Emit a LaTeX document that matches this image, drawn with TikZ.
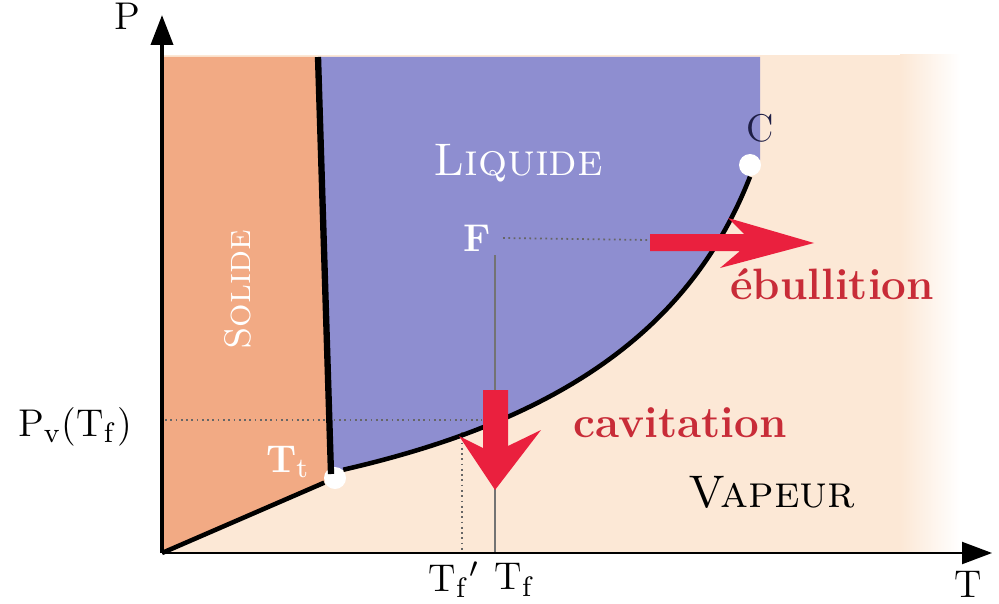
\documentclass[tikz,border=0pt]{standalone}
\usepackage{amsmath}
\usetikzlibrary{arrows.meta,positioning}
\definecolor{solidc}{RGB}{242,170,132}
\definecolor{liquidc}{RGB}{142,142,208}
\definecolor{vapeurc}{RGB}{252,232,214}
\definecolor{redarrow}{RGB}{234,32,62}
\definecolor{redtext}{RGB}{200,44,56}
\definecolor{navy}{RGB}{30,30,70}

\begin{document}
\begin{tikzpicture}[
  x=0.1mm,y=-0.1mm,
  axis/.style={-{Triangle[length=3mm,width=2.2mm]},draw=black},
  border/.style={draw=black,line width=1.3pt},
  guide/.style={draw=black!60,densely dotted,line width=0.5pt},
  dot/.style={circle,fill=white,inner sep=0pt,minimum size=2.2mm},
  region/.style={font=\fontsize{13}{15}\selectfont\scshape},
  axlabel/.style={font=\fontsize{11}{13}\selectfont},
  redlabel/.style={text=redtext,font=\fontsize{12.5}{15}\selectfont\bfseries},
  bigarrow/.style={fill=redarrow}
]
\useasboundingbox (0,0) rectangle (999,603);
% phase regions
\fill[vapeurc] (160,55) rectangle (905,553);
\fill[left color=vapeurc,right color=white] (900,55) rectangle (960,553);
\fill[solidc] (162,57) -- (316,57) -- (328,472) -- (333,478) -- (162,551) -- cycle;
\fill[liquidc] (320,57) -- (760,57) -- (760,160) -- (750,172)
  .. controls (690,330) and (560,420) .. (335,472) -- (332,472) -- cycle;

\coordinate (orig) at (162,553);
\coordinate (ptop) at (162,15);
\coordinate (tend) at (992,553);
\coordinate (mtop) at (318,57);
\coordinate (mbot) at (331,474);
\coordinate (pvl) at (165,420);
\coordinate (pvr) at (482,420);
\coordinate (fr) at (650,240);
\coordinate (tfa) at (495,255);
\coordinate (tfb) at (495,553);
\coordinate (tpa) at (462,432);
\coordinate (tpb) at (462,553);

\node[dot] (tp) at (335,478) {};
\node[dot] (cp) at (750,165) {};

% guides
\draw[guide] (pvl) -- (pvr);
\draw[guide] (tpa) -- (tpb);
\draw[draw=black!55,line width=0.5pt] (tfa) -- (tfb);

% equilibrium curves
\draw[border,line width=1.8pt] (mtop) -- (mbot);
\draw[border] (orig) -- (tp);
\draw[border] (tp.north east) .. controls (560,420) and (690,330) .. (cp.south);

% axes
\draw[axis,line width=1.1pt] (orig) -- (ptop);
\draw[axis,line width=0.6pt] (orig) -- (tend);

% red arrows
\fill[bigarrow] (483,390) -- (508,390) -- (508,446) -- (541,430) -- (495,490)
  -- (459,436) -- (483,448) -- cycle;
\fill[bigarrow] (650,234) -- (744,234) -- (728,218) -- (814,243) -- (720,268)
  -- (740,251) -- (650,251) -- cycle;

% labels
\node[axlabel] (plab) at (127,16) {P};
\node[axlabel] (tlab) at (968,584) {T};
\node[axlabel] (pvlab) at (75,427) {P$_\mathrm{v}$(T$_\mathrm{f}$)};
\node[axlabel] (tfplab) at (454,580) {T$_\mathrm{f}$$'$};
\node[axlabel] (tflab) at (515,580) {T$_\mathrm{f}$};
\node[axlabel,text=navy] (clab) at (760,128) {C};
\node[region,text=white] (liq) at (518,163) {Liquide};
\node[region,text=white,rotate=90,font=\fontsize{10.5}{12}\selectfont\scshape] (sol) at (238,290) {Solide};
\node[region] (vap) at (772,492) {Vapeur};
\node[text=white,font=\fontsize{11}{13}\selectfont\bfseries] (flab) at (477,238) {F};
\node[text=white,font=\fontsize{11}{13}\selectfont\bfseries] (ttlab) at (288,462) {T$_\mathrm{t}$};
\node[redlabel] (cav) at (680,423) {cavitation};
\node[redlabel] (ebu) at (832,284) {ébullition};
\draw[guide] (flab.east) -- (fr);
\end{tikzpicture}
\end{document}
